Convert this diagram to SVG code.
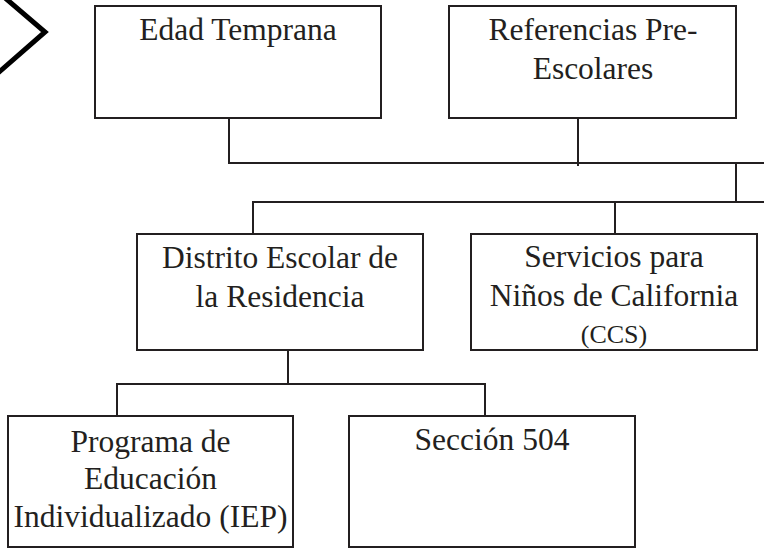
<svg xmlns="http://www.w3.org/2000/svg" width="764" height="548" viewBox="0 0 764 548">
<style>
.box{fill:#fff;stroke:#231f20;stroke-width:2}
.ln{fill:none;stroke:#231f20;stroke-width:2}
text{font-family:"Liberation Serif","Times New Roman",serif;font-size:31.5px;fill:#231f20;text-anchor:middle}
.sm{font-size:26px}
</style>
<rect width="764" height="548" fill="#fff"/>
<g id="chevron"><polyline points="4,-3 45,32 -2,73" fill="none" stroke="#000" stroke-width="5"/></g>
<g id="connectors">
<path class="ln" d="M229,118 V163 H764"/>
<path class="ln" d="M578,118 V166"/>
<path class="ln" d="M736,163 V203"/>
<path class="ln" d="M253,234 V202 H764"/>
<path class="ln" d="M615,202 V234"/>
<path class="ln" d="M288,350 V384"/>
<path class="ln" d="M117,416 V384 H485 V416"/>
</g>
<g id="edad"><rect class="box" x="95" y="6" width="286" height="112"/><text x="238" y="40">Edad Temprana</text></g>
<g id="referencias"><rect class="box" x="449" y="6" width="287" height="112"/><text x="593" y="40">Referencias Pre-</text><text x="593" y="79">Escolares</text></g>
<g id="distrito"><rect class="box" x="137" y="234" width="286" height="116"/><text x="280" y="268">Distrito Escolar de</text><text x="280" y="307">la Residencia</text></g>
<g id="servicios"><rect class="box" x="471" y="234" width="286" height="116"/><text x="614" y="267">Servicios para</text><text x="614" y="306">Niños de California</text><text class="sm" x="614" y="343">(CCS)</text></g>
<g id="programa"><rect class="box" x="8" y="416" width="285" height="131"/><text x="150.5" y="452">Programa de</text><text x="150.5" y="489">Educación</text><text x="150.5" y="527">Individualizado (IEP)</text></g>
<g id="seccion"><rect class="box" x="349" y="416" width="286" height="131"/><text x="492" y="450">Sección 504</text></g>
</svg>
